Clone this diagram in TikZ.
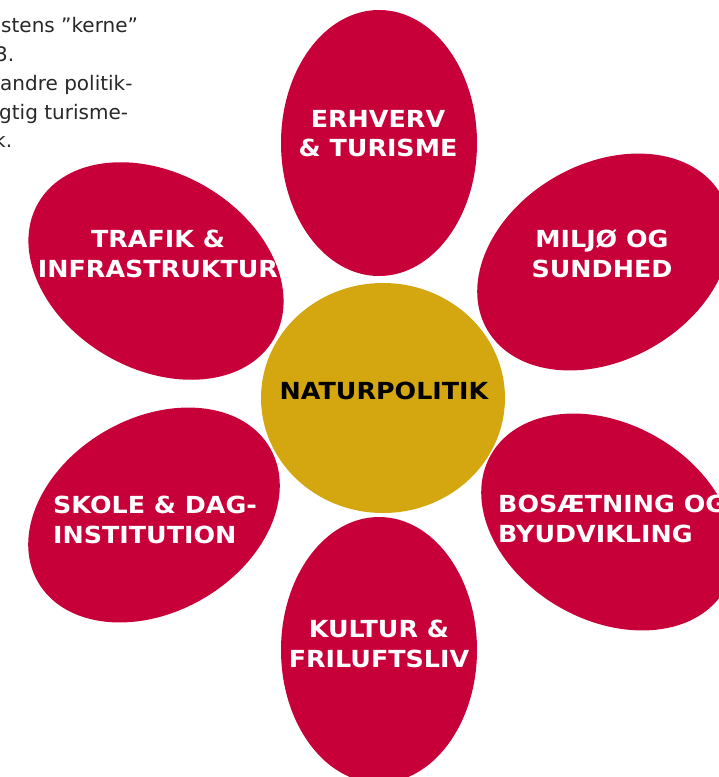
\documentclass[tikz,border=0pt]{standalone}
\usepackage{fontspec}
\setmainfont{DejaVu Sans}
\newfontfamily\petalfont[FakeStretch=1.08]{DejaVu Sans Bold}
\definecolor{petalred}{RGB}{200,0,58}
\definecolor{coregold}{RGB}{212,166,16}
\definecolor{bodytext}{RGB}{40,40,40}
\begin{document}
\begin{tikzpicture}[x=1pt,y=-1pt,
  petal/.style={fill=petalred},
  core/.style={fill=coregold},
  lbl/.style={inner sep=0pt,text=white,font=\petalfont\fontsize{23.5}{30}\selectfont},
  corelbl/.style={inner sep=0pt,text=black,font=\petalfont\fontsize{23.5}{30}\selectfont},
  body/.style={inner sep=0pt,anchor=base west,text=bodytext,font=\fontsize{20}{28}\selectfont}]
\useasboundingbox (0,0) rectangle (719,777);
\clip (0,0) rectangle (719,777);
% petals
\fill[petal] (379,143) ellipse [x radius=98pt, y radius=133pt];
\fill[petal] (379,650) ellipse [x radius=98pt, y radius=133pt];
\fill[petal, rotate around={-30:(156,271)}] (156,271) ellipse [x radius=136pt, y radius=98pt];
\fill[petal, rotate around={30:(154,515)}] (154,515) ellipse [x radius=134pt, y radius=97pt];
\fill[petal, rotate around={30:(604,262)}] (604,262) ellipse [x radius=135pt, y radius=98pt];
\fill[petal, rotate around={-30:(608,522)}] (608,522) ellipse [x radius=135pt, y radius=98pt];
% core
\fill[core] (383,398) ellipse [x radius=122pt, y radius=115pt];
\node[corelbl, anchor=base] (core) at (384,399) {NATURPOLITIK};
% petal labels
\node[lbl, anchor=base] (e1) at (378,127) {ERHVERV};
\node[lbl, anchor=base] (e2) at (378,156) {\& TURISME};
\node[lbl, anchor=base] (m1) at (602,247) {MILJØ OG};
\node[lbl, anchor=base] (m2) at (602,277) {SUNDHED};
\node[lbl, anchor=base] (t1) at (158,247) {TRAFIK \&};
\node[lbl, anchor=base] (t2) at (158,277) {INFRASTRUKTUR};
\node[lbl, anchor=base west] (b1) at (498,512) {BOSÆTNING OG};
\node[lbl, anchor=base west] (b2) at (498,542) {BYUDVIKLING};
\node[lbl, anchor=base west] (s1) at (53,513) {SKOLE \& DAG-};
\node[lbl, anchor=base west] (s2) at (53,543) {INSTITUTION};
\node[lbl, anchor=base] (k1) at (379,637) {KULTUR \&};
\node[lbl, anchor=base] (k2) at (379,667) {FRILUFTSLIV};
% cut-off body text
\node[body] (p1) at (1,32.5) {stens ”kerne”};
\node[body] (p2) at (-5,61.5) {3.};
\node[body] (p3) at (0,90.5) {andre politik-};
\node[body] (p4) at (-1,119) {gtig turisme-};
\node[body] (p5) at (-6,147.5) {k.};
\end{tikzpicture}
\end{document}
